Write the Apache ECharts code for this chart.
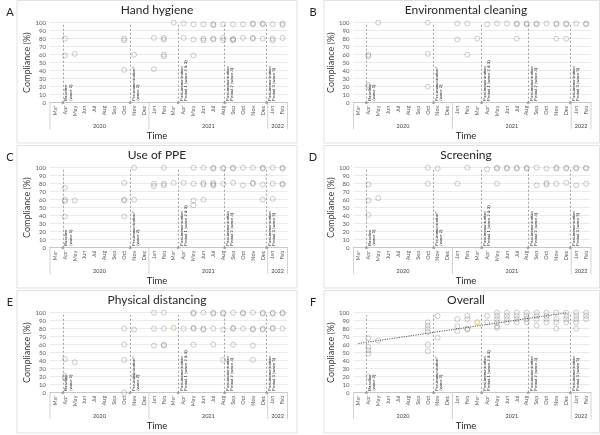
<!DOCTYPE html>
<html><head><meta charset="utf-8">
<script src="https://cdn.jsdelivr.net/npm/echarts@6/dist/echarts.min.js"></script>
<style>html,body{margin:0;padding:0;background:#fff}#c{width:600px;height:435px}</style>
</head><body><div id="c"></div>
<script>
// ---------- data ----------
const months = ['Mar','Apr','May','Jun','Jul','Aug','Sep','Oct','Nov','Dec','Jan','Feb','Mar','Apr','May','Jun','Jul','Aug','Sep','Oct','Nov','Dec','Jan','Feb'];
const yearLabels = ['2020','2021','2022'];
const yearMonthCounts = [10, 12, 2];
const yTicks = [0,10,20,30,40,50,60,70,80,90,100];
const panelLetters = ['A','B','C','D','E','F'];
const panelTitles = ['Hand hygiene','Environmental cleaning','Use of PPE','Screening','Physical distancing','Overall'];
const phaseX = [0.8, 7.6, 12.45, 17.15, 21.4];
const phaseLabels = ['Baseline\n(wave 1)', 'Pre-immunization*\n(wave 2)', 'Post-immunization\nPeriod 1 (wave 2 & 3)', 'Post-immunization\nPeriod 2 (wave 4)', 'Post-immunization\nPeriod 3 (wave 5)'];

// [month index (0 = Mar 2020), compliance %]
const handHygiene = [[1,80],[1,59],[2,61],[7,80],[7,78],[7,41],[8,60],[10,81],[10,42],[11,81],[11,79],[11,60],[11,58],[12,100],[13,99],[13,81],[14,98],[14,79],[14,59],[15,98],[15,80],[15,78],[16,98],[16,97],[16,80],[16,79],[17,98],[17,81],[17,78],[18,98],[18,80],[18,79],[18,78],[19,98],[19,81],[20,99],[20,98],[20,81],[20,80],[21,99],[21,98],[21,80],[22,98],[22,80],[22,78],[23,99],[23,97],[23,81]];
const envCleaning = [[1,60],[1,58],[1,22],[1,20],[2,100],[7,100],[7,61],[7,20],[10,99],[10,79],[11,99],[11,60],[12,80],[13,98],[14,99],[15,99],[16,99],[16,98],[16,80],[17,99],[17,98],[18,99],[18,98],[19,99],[20,99],[20,98],[20,80],[21,99],[21,98],[21,80],[22,99],[23,99],[23,98]];
const usePPE = [[1,75],[1,60],[1,58],[1,39],[2,59],[7,81],[7,60],[7,59],[7,39],[8,100],[8,60],[10,80],[10,77],[11,100],[11,80],[11,78],[12,81],[13,81],[14,100],[14,80],[14,59],[14,53],[15,100],[15,81],[15,79],[15,60],[16,100],[16,99],[16,81],[16,79],[16,78],[17,100],[17,99],[17,80],[18,100],[18,99],[18,81],[19,100],[19,78],[20,100],[20,81],[20,80],[21,100],[21,99],[21,79],[21,60],[22,100],[22,80],[22,61],[23,100],[23,99],[23,80],[23,79]];
const screening = [[1,79],[1,59],[1,41],[2,62],[7,100],[7,80],[8,99],[10,80],[11,100],[13,98],[14,100],[14,99],[14,80],[15,100],[15,99],[16,100],[16,99],[17,100],[17,99],[18,100],[18,78],[19,99],[19,81],[19,79],[20,100],[20,99],[20,80],[21,100],[21,99],[21,81],[22,100],[22,99],[22,78],[23,100],[23,99],[23,80]];
const physDistancing = [[1,42],[1,21],[1,18],[2,38],[7,80],[7,60],[7,41],[7,0],[8,79],[8,21],[10,100],[10,80],[10,59],[11,100],[11,80],[11,60],[11,59],[13,80],[14,100],[14,99],[14,81],[14,80],[14,60],[15,100],[15,80],[15,79],[16,100],[16,99],[16,80],[16,60],[17,100],[17,99],[17,79],[17,41],[18,100],[18,81],[18,80],[18,60],[19,100],[19,99],[19,80],[20,100],[20,80],[20,79],[20,59],[20,41],[21,100],[21,99],[21,80],[21,79],[22,100],[22,99],[22,81],[22,80],[23,100],[23,99],[23,80]];
const overall = [[1,68],[1,57],[1,53],[1,49],[1,20],[2,65],[7,88],[7,84],[7,80],[7,76],[7,60],[7,52],[8,96],[8,69],[10,92],[10,83],[10,77],[11,96],[11,92],[11,80],[11,79],[13,96],[13,88],[14,100],[14,96],[14,92],[14,88],[14,83],[14,81],[15,100],[15,96],[15,92],[15,88],[16,100],[16,96],[16,92],[16,88],[17,100],[17,96],[17,92],[17,88],[18,100],[18,96],[18,92],[18,84],[19,100],[19,96],[19,92],[19,88],[20,100],[20,92],[20,88],[20,80],[21,100],[21,96],[21,92],[21,88],[22,100],[22,96],[22,92],[22,88],[22,80],[23,100],[23,96],[23,92]];
const physDistancingHighlight = [[12,81]];
const overallHighlight = [[12,88]];
const overallTrend = [[0,61.5],[21.05,100]];

const panelData = [handHygiene, envCleaning, usePPE, screening, physDistancing, overall];
const panelHighlight = [[], [], [], [], physDistancingHighlight, overallHighlight];

// ---------- layout ----------
const colGridLeft = [50, 353.5];
const colFrameLeft = [17, 324];
const colFrameRight = [297, 599.5];
const colTitleX = [157, 466];
const colLetterX = [10, 313];
const rowDy = 145;
const gridTop0 = 22.7, gridW = 237.5, gridH = 80;
const FONT = 'Lato, "Noto Sans", sans-serif';

const chart = echarts.init(document.getElementById('c'));
const grids = [], xAxes = [], yAxes = [], series = [];
for (let i = 0; i < 6; i++) {
  const col = i % 2, row = Math.floor(i / 2);
  grids.push({left: colGridLeft[col], top: gridTop0 + row * rowDy, width: gridW, height: gridH});
  xAxes.push({type: 'category', gridIndex: i, data: months, boundaryGap: true,
    axisLine: {show: true, lineStyle: {color: '#bfbfbf', width: 0.8}},
    axisTick: {show: false},
    axisLabel: {rotate: 90, fontSize: 5.5, color: '#595959', margin: 3, interval: 0, fontFamily: FONT},
    splitLine: {show: false}});
  xAxes.push({type: 'value', gridIndex: i, min: -0.5, max: 23.5, show: false});
  yAxes.push({type: 'value', gridIndex: i, min: 0, max: 100, interval: 10,
    name: 'Compliance (%)', nameLocation: 'middle', nameGap: 14,
    nameTextStyle: {fontSize: 9, color: '#404040', fontFamily: FONT},
    axisLine: {show: false}, axisTick: {show: false},
    axisLabel: {fontSize: 6, color: '#595959', margin: 4, fontFamily: FONT},
    splitLine: {lineStyle: {color: '#e3e3e3', width: 0.7}}});
  series.push({type: 'scatter', xAxisIndex: 2 * i + 1, yAxisIndex: i, data: panelData[i],
    symbol: 'circle', symbolSize: 5, clip: false,
    itemStyle: {color: 'rgba(255,255,255,0)', borderColor: 'rgba(105,105,105,0.55)', borderWidth: 0.8}});
  series.push({type: 'scatter', xAxisIndex: 2 * i + 1, yAxisIndex: i,
    data: phaseX.map(x => [x, 0]), symbol: 'circle', symbolSize: 3, clip: false,
    itemStyle: {color: '#9a9a9a'},
    markLine: {silent: true, symbol: ['none', 'none'], label: {show: false},
      lineStyle: {type: [2, 2], color: '#8c8c8c', width: 0.8},
      data: phaseX.map(x => ({xAxis: x}))}});
  if (panelHighlight[i].length) {
    series.push({type: 'scatter', xAxisIndex: 2 * i + 1, yAxisIndex: i, data: panelHighlight[i],
      symbol: 'circle', symbolSize: 5,
      itemStyle: {color: 'rgba(255,255,255,0)', borderColor: '#c9b458', borderWidth: 0.9}});
  }
  if (i === 5) {
    series.push({type: 'line', xAxisIndex: 11, yAxisIndex: 5, data: overallTrend, symbol: 'none',
      lineStyle: {type: [1.2, 1.2], color: '#555', width: 1}});
  }
}

chart.setOption({animation: false, grid: grids, xAxis: xAxes, yAxis: yAxes, series: series});

const gfx = [];
for (let i = 0; i < 6; i++) {
  const col = i % 2, row = Math.floor(i / 2), dy = row * rowDy;
  gfx.push({type: 'rect', silent: true, shape: {x: colFrameLeft[col], y: dy + 0.5, width: colFrameRight[col] - colFrameLeft[col], height: 142.5},
    style: {fill: 'none', stroke: '#d9d9d9', lineWidth: 0.8}, z: -1});
  gfx.push({type: 'text', x: colLetterX[col], y: dy + 12, style: {text: panelLetters[i], fontSize: 11, fill: '#222', fontFamily: FONT, align: 'center', verticalAlign: 'middle'}});
  gfx.push({type: 'text', x: colTitleX[col], y: dy + 10.5, style: {text: panelTitles[i], fontSize: 12, fill: '#262626', fontFamily: FONT, align: 'center', verticalAlign: 'middle'}});
  gfx.push({type: 'text', x: colTitleX[col], y: dy + 136, style: {text: 'Time', fontSize: 9.5, fill: '#262626', fontFamily: FONT, align: 'center', verticalAlign: 'middle'}});
  const xa = 2 * i + 1;
  const y0 = chart.convertToPixel({yAxisIndex: i}, 0);
  // year groups
  let start = -0.5;
  const sepYs = [y0, y0 + 26.5];
  const x0 = chart.convertToPixel({xAxisIndex: xa}, start);
  gfx.push({type: 'line', silent: true, shape: {x1: x0, y1: sepYs[0], x2: x0, y2: sepYs[1]}, style: {stroke: '#bfbfbf', lineWidth: 0.7}});
  for (let k = 0; k < yearLabels.length; k++) {
    const end = start + yearMonthCounts[k];
    const xs = chart.convertToPixel({xAxisIndex: xa}, start);
    const xe = chart.convertToPixel({xAxisIndex: xa}, end);
    gfx.push({type: 'line', silent: true, shape: {x1: xe, y1: sepYs[0], x2: xe, y2: sepYs[1]}, style: {stroke: '#bfbfbf', lineWidth: 0.7}});
    gfx.push({type: 'text', x: (xs + xe) / 2, y: y0 + 23.5, style: {text: yearLabels[k], fontSize: 5.5, fill: '#404040', fontFamily: FONT, align: 'center', verticalAlign: 'middle'}});
    start = end;
  }
  // phase labels
  for (let k = 0; k < phaseX.length; k++) {
    const px = chart.convertToPixel({xAxisIndex: xa}, phaseX[k]);
    gfx.push({type: 'text', x: px + 1.3, y: y0 - 2, rotation: Math.PI / 2,
      style: {text: phaseLabels[k], fontSize: 4.2, lineHeight: 4.2, fill: '#262626', fontFamily: '"Liberation Sans", Arial, sans-serif', align: 'left', verticalAlign: 'top'}});
  }
}
chart.setOption({graphic: gfx});
</script></body></html>
